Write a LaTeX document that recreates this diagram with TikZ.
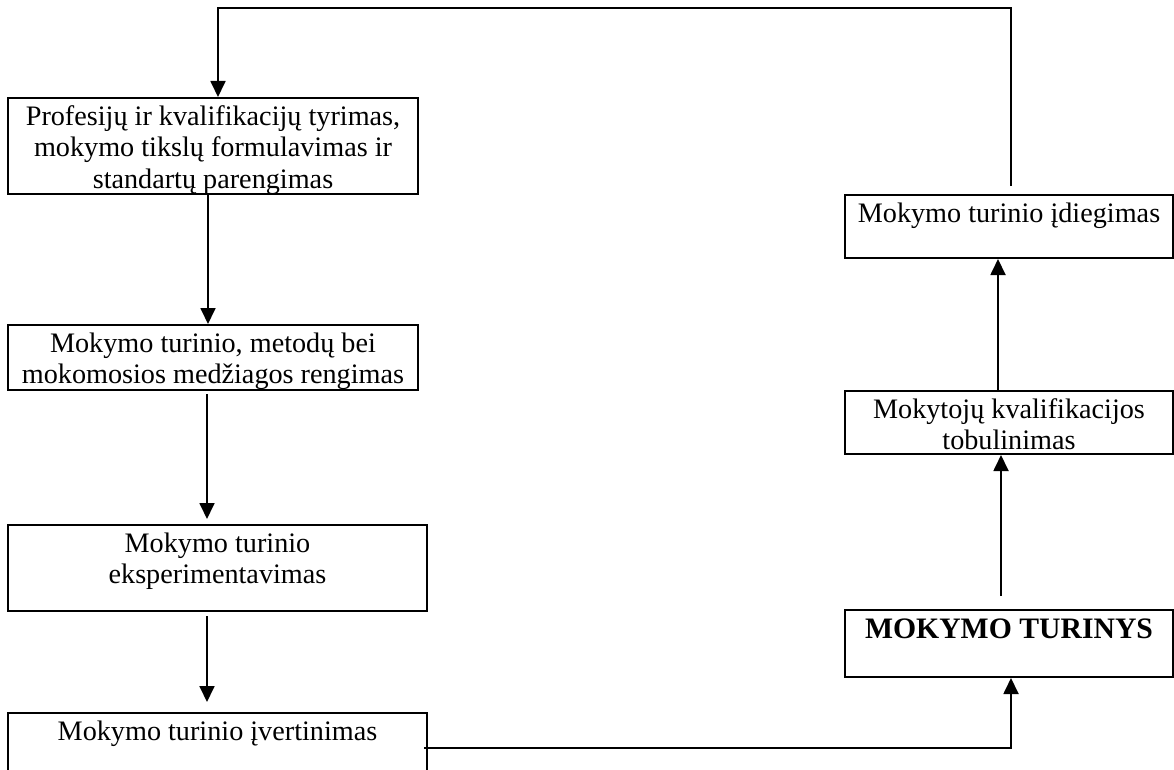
\documentclass[tikz,border=0pt]{standalone}
\usepackage{fontspec}
\setmainfont{Liberation Serif}
\usetikzlibrary{arrows.meta}
\newcommand{\toptext}[3]{\parbox[c][#2][t]{#1}{\centering\strut #3}}

\begin{document}
\begin{tikzpicture}[x=1pt,y=-1pt]
      \useasboundingbox (0,0) rectangle (1174,770);

      \begin{scope}[every node/.style={draw,rectangle,line width=2pt,inner xsep=0pt,inner ysep=5pt,
          font=\fontsize{28.2}{31.5}\selectfont}]
        \node (1) at (213,146)   {\toptext{410pt}{86pt}{Profesijų ir kvalifikacijų tyrimas,\\ mokymo tikslų formulavimas ir\\ standartų parengimas}};
        \node (2) at (213,357.5) {\toptext{410pt}{55pt}{Mokymo turinio, metodų bei\\ mokomosios medžiagos rengimas}};
        \node (3) at (217.5,568) {\toptext{419pt}{76pt}{Mokymo turinio\\ eksperimentavimas}};
        \node (4) at (217.5,758) {\toptext{419pt}{80pt}{Mokymo turinio įvertinimas}};
        \node (5) at (1009,226.5) {\toptext{328pt}{53pt}{Mokymo turinio įdiegimas}};
        \node (6) at (1009,422.5) {\toptext{328pt}{53pt}{Mokytojų kvalifikacijos\\ tobulinimas}};
        \node[font=\fontsize{29.7}{34}\selectfont\bfseries] (7) at (1009,643.5) {\toptext{328pt}{57pt}{MOKYMO TURINYS}};
      \end{scope}

      \coordinate (t) at (218,8);
      \coordinate (c) at (1011,748);

      \begin{scope}[line width=1.8pt,>={Triangle[width=15pt,length=16pt]}]
        \begin{scope}[every edge/.style={draw,->}]
          \path ([xshift=-5pt]1.south) edge ([xshift=-5pt]2.north);
          \path ([xshift=-6pt,yshift=-3pt]2.south) edge ([xshift=-10.5pt,yshift=5pt]3.north);
          \path ([xshift=-10.5pt,yshift=-4pt]3.south) edge ([xshift=-10.5pt,yshift=10pt]4.north);
          \path ([xshift=-8pt,yshift=13pt]7.north) edge ([xshift=-8pt]6.south);
          \path ([xshift=-11pt]6.north) edge ([xshift=-11pt]5.south);
        \end{scope}
        \draw[->] ([xshift=2pt,yshift=8pt]5.north) |- (t) -- (t |- 1.north);
        \draw[->] ([xshift=-4pt]4.east |- c) -- (c) -- (c |- 7.south);
      \end{scope}

\end{tikzpicture}
\end{document}
